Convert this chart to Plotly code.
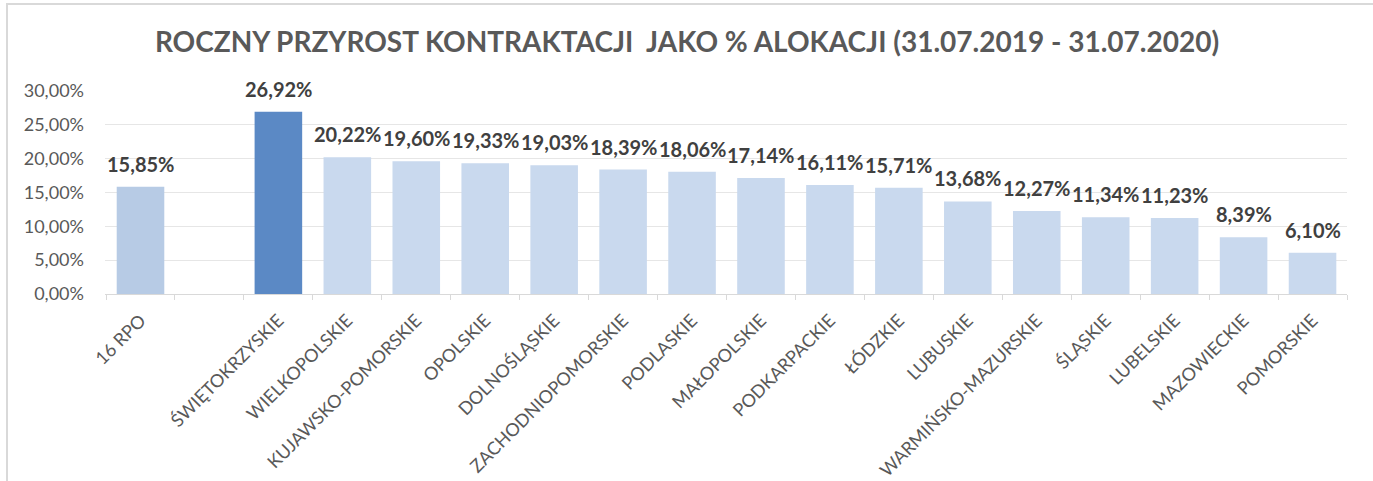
import plotly.graph_objects as go

categories = ["16 RPO", " ", "ŚWIĘTOKRZYSKIE", "WIELKOPOLSKIE", "KUJAWSKO-POMORSKIE", "OPOLSKIE",
              "DOLNOŚLĄSKIE", "ZACHODNIOPOMORSKIE", "PODLASKIE", "MAŁOPOLSKIE", "PODKARPACKIE",
              "ŁÓDZKIE", "LUBUSKIE", "WARMIŃSKO-MAZURSKIE", "ŚLĄSKIE", "LUBELSKIE",
              "MAZOWIECKIE", "POMORSKIE"]
values = [0.1585, None, 0.2692, 0.2022, 0.1960, 0.1933, 0.1903, 0.1839, 0.1806, 0.1714, 0.1611,
          0.1571, 0.1368, 0.1227, 0.1134, 0.1123, 0.0839, 0.0610]
colors = ["#b7cbe5", "#c9d9ee", "#5b89c5"] + ["#c9d9ee"] * 15
y_ticks = [0, 0.05, 0.10, 0.15, 0.20, 0.25, 0.30]

W, H = 1373, 481
L, R, T, B = 105, 26, 91, 187
pw, ph = W - L - R, H - T - B

def px(x):
    return (x - L) / pw

def py(y):
    return (H - B - y) / ph

fig = go.Figure(go.Bar(
    x=categories, y=values,
    marker=dict(color=colors, line=dict(width=0)),
    width=0.69,
    hoverinfo="skip",
))

annotations = []
for c, v in zip(categories, values):
    if v is None:
        continue
    annotations.append(dict(
        x=c, y=v, xref="x", yref="y",
        text=f"{v * 100:.2f}%".replace(".", ","),
        showarrow=False, yanchor="middle", yshift=23,
        font=dict(family="Lato", size=20, color="#404040", weight="bold"),
    ))

fig.update_layout(
    width=W, height=H,
    margin=dict(l=L, r=R, t=T, b=B, autoexpand=False),
    paper_bgcolor="white", plot_bgcolor="white",
    separators=", ",
    showlegend=False,
    annotations=annotations,
    title=dict(text="ROCZNY PRZYROST KONTRAKTACJI  JAKO % ALOKACJI (31.07.2019 - 31.07.2020)",
               x=687 / W, xanchor="center", y=1 - 42 / H, yanchor="middle",
               font=dict(family="Lato", size=28, color="#595959", weight="bold")),
    font=dict(family="Lato", color="#595959"),
    shapes=[
        dict(type="line", xref="paper", yref="paper", x0=px(6), x1=px(1373), y0=py(4), y1=py(4),
             line=dict(color="#d9d9d9", width=2)),
        dict(type="line", xref="paper", yref="paper", x0=px(7), x1=px(7), y0=py(4), y1=py(481),
             line=dict(color="#d9d9d9", width=2)),
    ],
)

fig.update_yaxes(range=[0, 0.30], tickvals=y_ticks, tickformat=".2%",
                 tickfont=dict(family="Lato", size=18, color="#595959"),
                 showgrid=True, gridcolor="#e6e6e6", gridwidth=1, zeroline=False,
                 showline=False, ticks="", ticklabelstandoff=20, automargin=False)
fig.update_xaxes(tickangle=-45, tickfont=dict(family="Lato", size=18, color="#595959"),
                 showline=True, linecolor="#d9d9d9", linewidth=1,
                 ticks="outside", tickson="boundaries", ticklen=5, tickcolor="#d9d9d9",
                 showgrid=False, ticklabelstandoff=8, automargin=False)

fig.write_html("out.html")
